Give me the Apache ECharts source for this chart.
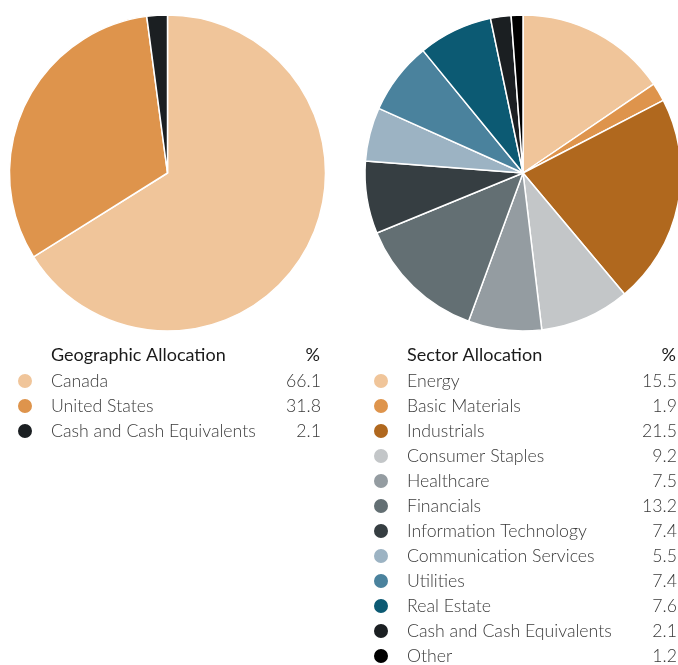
<!DOCTYPE html>
<html>
<head>
<meta charset="utf-8">
<script src="https://cdn.jsdelivr.net/npm/echarts@6/dist/echarts.min.js"></script>
<style>html,body{margin:0;padding:0;background:#fff;}#c{width:678px;height:665px;}</style>
</head>
<body>
<div id="c"></div>
<script>
const geoTitle = 'Geographic Allocation';
const geoNames = ['Canada', 'United States', 'Cash and Cash Equivalents'];
const geoValues = [66.1, 31.8, 2.1];
const geoColors = ['#F0C59A', '#DE944C', '#1B1F22'];

const secTitle = 'Sector Allocation';
const secNames = ['Energy', 'Basic Materials', 'Industrials', 'Consumer Staples', 'Healthcare', 'Financials', 'Information Technology', 'Communication Services', 'Utilities', 'Real Estate', 'Cash and Cash Equivalents ', 'Other'];
const secValues = [15.5, 1.9, 21.5, 9.2, 7.5, 13.2, 7.4, 5.5, 7.4, 7.6, 2.1, 1.2];
const secColors = ['#F0C59A', '#DE944C', '#B0681E', '#C3C6C8', '#949CA1', '#636F73', '#363E42', '#9CB3C3', '#4A829D', '#0C5A73', '#1B1F22', '#000000'];

const FONT = 'Lato';
const chart = echarts.init(document.getElementById('c'));

function mkLegend(names, values, left) {
  const map = {};
  names.forEach((n, i) => map[n] = values[i].toFixed(1));
  return {
    orient: 'vertical',
    left: left,
    top: 372,
    padding: 0,
    itemWidth: 16,
    itemHeight: 16,
    itemGap: 7,
    icon: 'circle',
    selectedMode: false,
    data: names,
    formatter: n => '{n|' + n.trim() + '}{v|' + map[n] + '}',
    textStyle: {
      fontFamily: FONT,
      rich: {
        n: { width: 214, padding: [0, 0, 0, 13], fontSize: 17.7, fontWeight: 300, color: '#3a3a3a', fontFamily: FONT, lineHeight: 18 },
        v: { width: 56, align: 'right', fontSize: 17.7, fontWeight: 300, color: '#3a3a3a', fontFamily: FONT, lineHeight: 18 }
      }
    }
  };
}

function mkPie(names, values, colors, cx) {
  return {
    type: 'pie',
    center: [cx, 173],
    radius: [0, 158],
    startAngle: 90,
    clockwise: true,
    label: { show: false },
    labelLine: { show: false },
    silent: true,
    animation: false,
    itemStyle: { borderColor: '#ffffff', borderWidth: 1.5 },
    data: names.map((n, i) => ({ name: n, value: values[i], itemStyle: { color: colors[i] } }))
  };
}

function header(text, x, rightX) {
  return [
    { type: 'text', left: x, top: 346, style: { text: text, fontFamily: FONT, fontSize: 18, fontWeight: 400, fill: '#1a1a1a' } },
    { type: 'text', right: 678 - rightX, top: 346, style: { text: '%', fontFamily: FONT, fontSize: 18, fontWeight: 400, fill: '#1a1a1a', align: 'right' } }
  ];
}

chart.setOption({
  animation: false,
  color: geoColors.concat(secColors),
  legend: [mkLegend(geoNames, geoValues, 16), mkLegend(secNames, secValues, 372)],
  graphic: header(geoTitle, 51, 320).concat(header(secTitle, 407, 676)),
  series: [
    mkPie(geoNames, geoValues, geoColors, 167.5),
    mkPie(secNames, secValues, secColors, 523)
  ]
});
</script>
</body>
</html>
